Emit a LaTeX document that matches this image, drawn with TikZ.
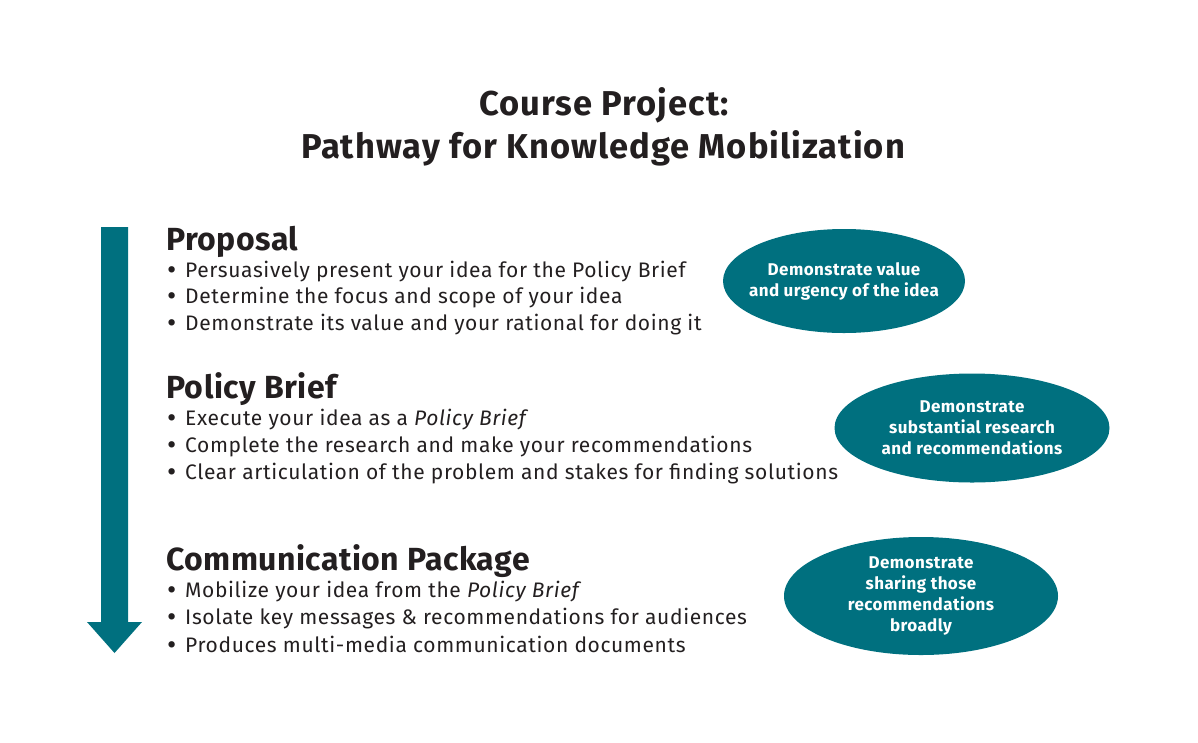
\documentclass[tikz,border=0pt]{standalone}
\usepackage{fontspec}
\setmainfont{Fira Sans}
\usetikzlibrary{shapes.geometric}
\definecolor{pathteal}{RGB}{0,112,127}
\definecolor{inkgray}{RGB}{35,31,32}
\newcommand{\itm}{\makebox[18pt][l]{\raisebox{-2.2pt}{\scalebox{1.35}{\textbullet}}}}
\tikzset{
  titletext/.style={anchor=base, inner sep=0pt, text=inkgray, font=\fontsize{34.5}{40}\selectfont\bfseries\addfontfeatures{LetterSpace=3}},
  heading/.style={anchor=base west, inner sep=0pt, text=inkgray, font=\fontsize{32}{36}\selectfont\bfseries\addfontfeatures{LetterSpace=1.5}},
  bulletline/.style={anchor=base west, inner sep=0pt, text=inkgray, font=\fontsize{21}{24}\selectfont\addfontfeatures{LetterSpace=3}},
  goal/.style={ellipse, fill=pathteal, text=white, inner xsep=-30pt, inner ysep=-10pt, align=center, font=\fontsize{17}{21}\selectfont\bfseries\addfontfeatures{LetterSpace=2.5}}
}
\begin{document}
\begin{tikzpicture}[x=1pt,y=-1pt]
\useasboundingbox (0,0) rectangle (1198,742);
%\draw[step=50,gray,very thin] (0,0) grid (1198,742); %background grid
\node[titletext] (title) at (604,115) {Course Project:};
\node[titletext] (subtitle) at (603,158) {Pathway for Knowledge Mobilization};
% timeline arrow
\fill[pathteal] (101,227) -- (128,227) -- (128,622) -- (142,622) -- (114.5,653) -- (87,622) -- (101,622) -- cycle;
% proposal
\node[heading] (proposal) at (166,250) {Proposal};
\node[bulletline] (prop1) at (167,277) {\itm Persuasively present your idea for the Policy Brief};
\node[bulletline] (prop2) at (167,303) {\itm Determine the focus and scope of your idea};
\node[bulletline] (prop3) at (167,330) {\itm Demonstrate its value and your rational for doing it};
% policy brief
\node[heading] (brief) at (166,398) {Policy Brief};
\node[bulletline] (brief1) at (167,425) {\itm Execute your idea as a \textit{Policy Brief}};
\node[bulletline] (brief2) at (167,452) {\itm Complete the research and make your recommendations};
\node[bulletline] (brief3) at (167,479) {\itm Clear articulation of the problem and stakes for finding solutions};
% communication package
\node[heading] (package) at (166,570) {Communication Package};
\node[bulletline] (pack1) at (167,597) {\itm Mobilize your idea from the \textit{Policy Brief}};
\node[bulletline] (pack2) at (167,624) {\itm Isolate key messages \& recommendations for audiences};
\node[bulletline] (pack3) at (167,652) {\itm Produces multi-media communication documents};
% goals
\node[goal, minimum width=242, minimum height=104] (goalvalue) at (844,281) {Demonstrate value\\and urgency of the idea};
\node[goal, minimum width=275, minimum height=109] (goalresearch) at (972,428) {Demonstrate\\substantial research\\and recommendations};
\node[goal, minimum width=274, minimum height=118] (goalshare) at (921,596) {Demonstrate\\sharing those\\recommendations\\broadly};
\end{tikzpicture}
\end{document}
